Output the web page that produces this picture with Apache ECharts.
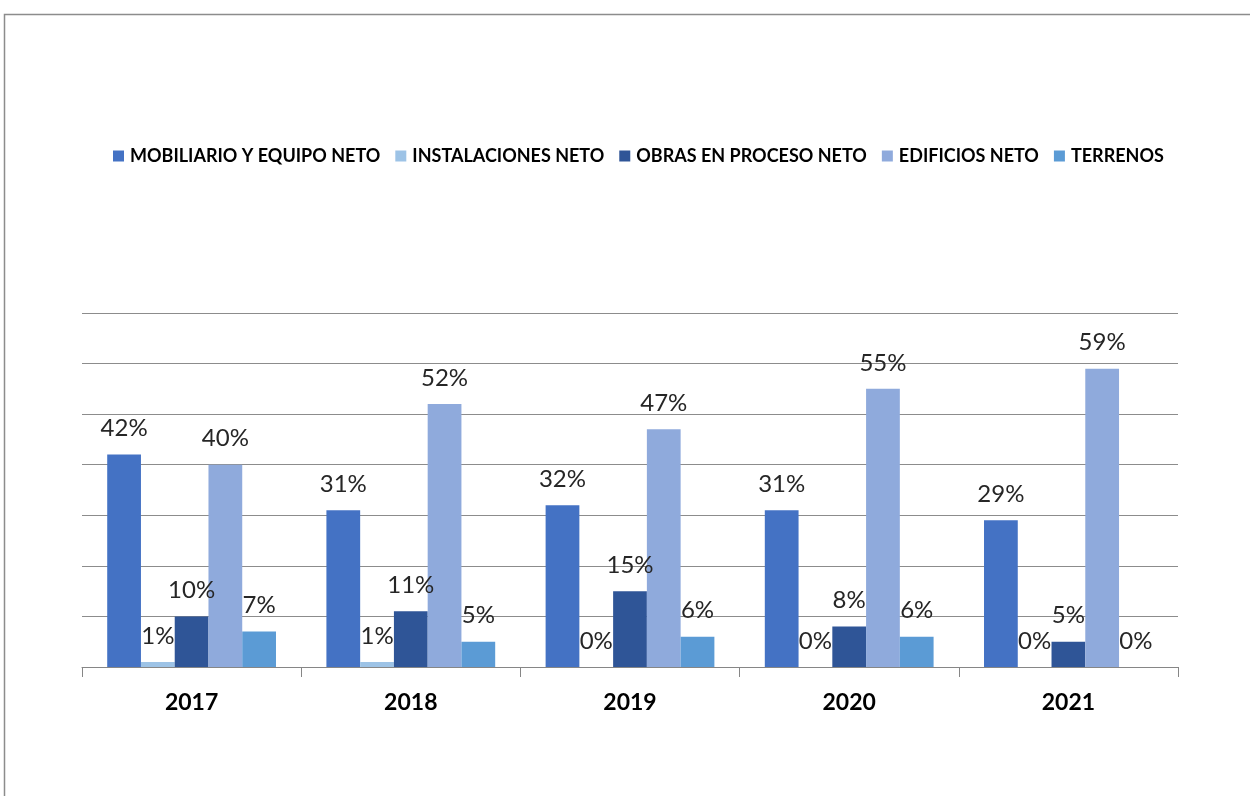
<!DOCTYPE html>
<html>
<head>
<meta charset="utf-8">
<script src="https://cdn.jsdelivr.net/npm/echarts@6/dist/echarts.min.js"></script>
<style>
  html, body { margin: 0; padding: 0; background: #fff; }
  #chart { width: 1250px; height: 796px; }
</style>
</head>
<body>
<div id="chart"></div>
<script>
// datos (%)
const years = ["2017", "2018", "2019", "2020", "2021"];
const mobiliario = [42, 31, 32, 31, 29];
const instalaciones = [1, 1, 0, 0, 0];
const obras = [10, 11, 15, 8, 5];
const edificios = [40, 52, 47, 55, 59];
const terrenos = [7, 5, 6, 6, 0];

const seriesDefs = [
  { name: "MOBILIARIO Y EQUIPO NETO", data: mobiliario, color: "#4472C4" },
  { name: "INSTALACIONES NETO", data: instalaciones, color: "#9DC3E6" },
  { name: "OBRAS EN PROCESO NETO", data: obras, color: "#2F5597" },
  { name: "EDIFICIOS NETO", data: edificios, color: "#8FAADC" },
  { name: "TERRENOS", data: terrenos, color: "#5B9BD5" },
];

const font = "Lato, 'Open Sans', sans-serif";

const chart = echarts.init(document.getElementById("chart"));
const options = {
  animation: false,
  // marco del grafico
  graphic: [
    {
      type: "rect",
      shape: { x: 4.5, y: 14.5, width: 1300, height: 900 },
      style: { fill: "none", stroke: "#8c8c8c", lineWidth: 1.5 },
    },
  ],
  legend: {
    top: 142,
    left: 108,
    itemWidth: 11,
    itemHeight: 11,
    itemGap: 15,
    icon: "rect",
    textStyle: {
      fontFamily: font,
      fontSize: 18,
      fontWeight: "bold",
      color: "#000",
      padding: [0, 0, 0, 1],
    },
  },
  grid: {
    left: 82,
    right: 72,
    top: 313,
    bottom: 129,
  },
  xAxis: {
    type: "category",
    data: years,
    axisLine: { lineStyle: { color: "#868686", width: 1 } },
    axisTick: { show: true, length: 10, lineStyle: { color: "#868686" } },
    axisLabel: {
      fontFamily: font,
      fontSize: 23,
      fontWeight: "bold",
      color: "#000",
      margin: 24,
    },
  },
  yAxis: {
    type: "value",
    min: 0,
    max: 70,
    interval: 10,
    axisLabel: { show: false },
    axisLine: { show: false },
    axisTick: { show: false },
    splitLine: { lineStyle: { color: "#8c8c8c", width: 1 } },
  },
  series: seriesDefs.map((s) => ({
    name: s.name,
    type: "bar",
    data: s.data,
    barGap: "0%",
    barCategoryGap: "23%",
    itemStyle: { color: s.color },
    label: {
      show: true,
      position: "top",
      distance: 14,
      fontFamily: font,
      fontSize: 24,
      color: "#262626",
      formatter: (p) => Math.round(p.value) + "%",
    },
  })),
};
chart.setOption(options);
</script>
</body>
</html>
